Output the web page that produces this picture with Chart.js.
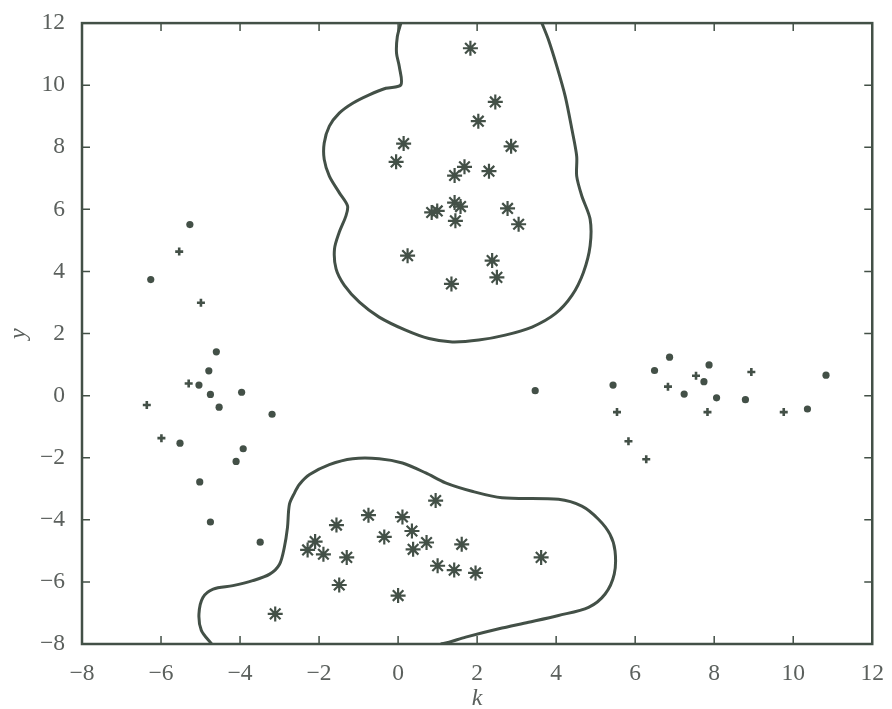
<!DOCTYPE html>
<html>
<head>
<meta charset="utf-8">
<script src="https://cdn.jsdelivr.net/npm/chart.js@4.4.1/dist/chart.umd.min.js"></script>
<style>
  html, body { margin: 0; padding: 0; background: #ffffff; }
  #wrap { width: 892px; height: 709px; }
</style>
</head>
<body>
<div id="wrap"><canvas id="c" width="892" height="709"></canvas></div>
<script>
// ---- data ----
const dotX = [-5.27, -6.26, -4.60, -4.79, -5.04, -4.75, -3.96, -4.53, -3.19, -5.52, -3.92, -4.10, -5.02, -4.75, -3.49,
              3.47, 5.44, 6.49, 6.87, 7.24, 7.74, 7.87, 8.06, 8.79, 10.36, 10.83];
const dotY = [5.51, 3.74, 1.41, 0.80, 0.34, 0.04, 0.11, -0.37, -0.60, -1.53, -1.71, -2.12, -2.78, -4.07, -4.72,
              0.16, 0.34, 0.81, 1.24, 0.05, 0.45, 0.99, -0.07, -0.13, -0.43, 0.66];

const plusX = [-5.54, -4.99, -5.30, -6.36, -5.99, 5.54, 5.83, 6.28, 6.83, 7.54, 7.83, 8.94, 9.76];
const plusY = [4.64, 2.99, 0.39, -0.30, -1.37, -0.53, -1.47, -2.05, 0.29, 0.64, -0.53, 0.76, -0.53];

const starX = [1.83, 2.46, 2.03, 0.14, 2.86, -0.05, 1.68, 1.43, 2.30, 0.85, 0.99, 1.43, 1.58, 1.45, 2.77, 3.05, 0.24, 2.38, 2.50, 1.35,
               0.95, -0.75, 0.11, -1.56, 0.35, -0.35, -2.10, -2.29, -1.89, 0.72, 0.38, 1.61, -1.30, 3.62, 1.00, 1.42, 1.96, -1.49, 0.00, -3.11];
const starY = [11.19, 9.46, 8.84, 8.12, 8.03, 7.53, 7.37, 7.09, 7.23, 5.90, 5.95, 6.22, 6.09, 5.63, 6.03, 5.52, 4.51, 4.35, 3.81, 3.60,
               -3.38, -3.85, -3.91, -4.17, -4.36, -4.55, -4.70, -4.97, -5.11, -4.73, -4.95, -4.79, -5.21, -5.21, -5.48, -5.62, -5.71, -6.10, -6.44, -7.03];

const topCurveX = [0.07, -0.02, -0.04, 0.03, 0.07, -0.31, -0.73, -1.15, -1.49, -1.74, -1.87, -1.87, -1.74, -1.49, -1.28, -1.32, -1.49, -1.61, -1.57, -1.36, -0.98, -0.48, 0.19, 0.78, 1.37, 2.04, 2.71, 3.39, 3.98, 4.40, 4.69, 4.86, 4.86, 4.65, 4.52, 4.52, 4.40, 4.23, 4.02, 3.81, 3.64];
const topCurveY = [12.0, 11.56, 11.03, 10.60, 10.01, 9.90, 9.69, 9.42, 9.10, 8.68, 8.14, 7.61, 7.07, 6.54, 6.11, 5.79, 5.26, 4.72, 4.08, 3.55, 3.01, 2.53, 2.11, 1.84, 1.73, 1.79, 1.95, 2.21, 2.64, 3.23, 3.97, 4.83, 5.68, 6.43, 7.07, 7.71, 8.57, 9.64, 10.60, 11.45, 12.0];

const botCurveX = [-4.72, -4.98, -5.04, -4.94, -4.68, -4.18, -3.68, -3.25, -3.00, -2.88, -2.80, -2.75, -2.62, -2.50, -2.24, -1.74, -1.15, -0.48, 0.11, 0.70, 1.20, 1.87, 2.63, 4.06, 4.65, 5.07, 5.36, 5.49, 5.47, 5.24, 4.82, 4.06, 3.30, 2.55, 1.71, 1.29, 1.08];
const botCurveY = [-8.0, -7.56, -7.03, -6.50, -6.23, -6.12, -5.96, -5.75, -5.43, -4.89, -4.25, -3.50, -3.13, -2.86, -2.54, -2.22, -2.03, -2.03, -2.17, -2.49, -2.81, -3.08, -3.29, -3.34, -3.56, -3.98, -4.46, -5.00, -5.75, -6.39, -6.82, -7.08, -7.30, -7.51, -7.78, -7.94, -8.0];

const xTicks = [-8, -6, -4, -2, 0, 2, 4, 6, 8, 10, 12];
const yTicks = [-8, -6, -4, -2, 0, 2, 4, 6, 8, 10, 12];

// ---- build ----
const INK = '#435047';
const TXT = '#5b605d';
const pts = (xs, ys) => xs.map((x, i) => ({ x: x, y: ys[i] }));
const fmt = v => String(v).replace('-', '\u2212');

const framePlugin = {
  id: 'frame',
  afterDatasetsDraw(chart) {
    const { ctx, chartArea: a, scales } = chart;
    ctx.save();
    ctx.strokeStyle = INK;
    ctx.lineWidth = 2.5;
    ctx.strokeRect(a.left, a.top, a.right - a.left, a.bottom - a.top);
    ctx.lineWidth = 1.5;
    const L = 8;
    ctx.beginPath();
    xTicks.forEach(v => {
      const p = scales.x.getPixelForValue(v);
      ctx.moveTo(p, a.bottom); ctx.lineTo(p, a.bottom - L);
      ctx.moveTo(p, a.top); ctx.lineTo(p, a.top + L);
    });
    yTicks.forEach(v => {
      const p = scales.y.getPixelForValue(v);
      ctx.moveTo(a.left, p); ctx.lineTo(a.left + L, p);
      ctx.moveTo(a.right, p); ctx.lineTo(a.right - L, p);
    });
    ctx.stroke();
    ctx.restore();
  }
};

new Chart(document.getElementById('c'), {
  type: 'scatter',
  data: {
    datasets: [
      { label: 'boundary top', data: pts(topCurveX, topCurveY), showLine: true, borderColor: INK, borderWidth: 3, pointRadius: 0, tension: 0.3, fill: false },
      { label: 'boundary bottom', data: pts(botCurveX, botCurveY), showLine: true, borderColor: INK, borderWidth: 3, pointRadius: 0, tension: 0.3, fill: false },
      { label: 'dots', data: pts(dotX, dotY), pointStyle: 'circle', pointRadius: 3.6, backgroundColor: INK, borderColor: INK, borderWidth: 0 },
      { label: 'plus', data: pts(plusX, plusY), pointStyle: 'cross', pointRadius: 4, borderColor: INK, borderWidth: 2.6 },
      { label: 'stars', data: pts(starX, starY), pointStyle: 'star', pointRadius: 7.5, borderColor: INK, borderWidth: 2.2 }
    ]
  },
  options: {
    responsive: false,
    animation: false,
    events: [],
    layout: { padding: { top: 20, right: 17, left: 0, bottom: 0 } },
    plugins: { legend: { display: false }, tooltip: { enabled: false } },
    scales: {
      x: {
        type: 'linear', min: -8, max: 12,
        grid: { display: false }, border: { display: false },
        afterBuildTicks: s => { s.ticks = xTicks.map(v => ({ value: v })); },
        afterFit: s => { s.height = 65; },
        ticks: { color: TXT, padding: 8, font: { family: 'Liberation Serif', size: 23.5 }, callback: v => fmt(v) },
        title: { display: true, text: 'k', color: TXT, padding: { top: 0, bottom: -4 }, font: { family: 'Liberation Serif', size: 24, style: 'italic' } }
      },
      y: {
        type: 'linear', min: -8, max: 12,
        grid: { display: false }, border: { display: false },
        afterBuildTicks: s => { s.ticks = yTicks.map(v => ({ value: v })); },
        afterFit: s => { s.width = 82; },
        ticks: { color: TXT, padding: 9, font: { family: 'Liberation Serif', size: 23.5 }, callback: v => fmt(v) },
        title: { display: true, text: 'y', color: TXT, padding: { top: 4, bottom: 0 }, font: { family: 'Liberation Serif', size: 24, style: 'italic' } }
      }
    }
  },
  plugins: [framePlugin]
});
</script>
</body>
</html>
